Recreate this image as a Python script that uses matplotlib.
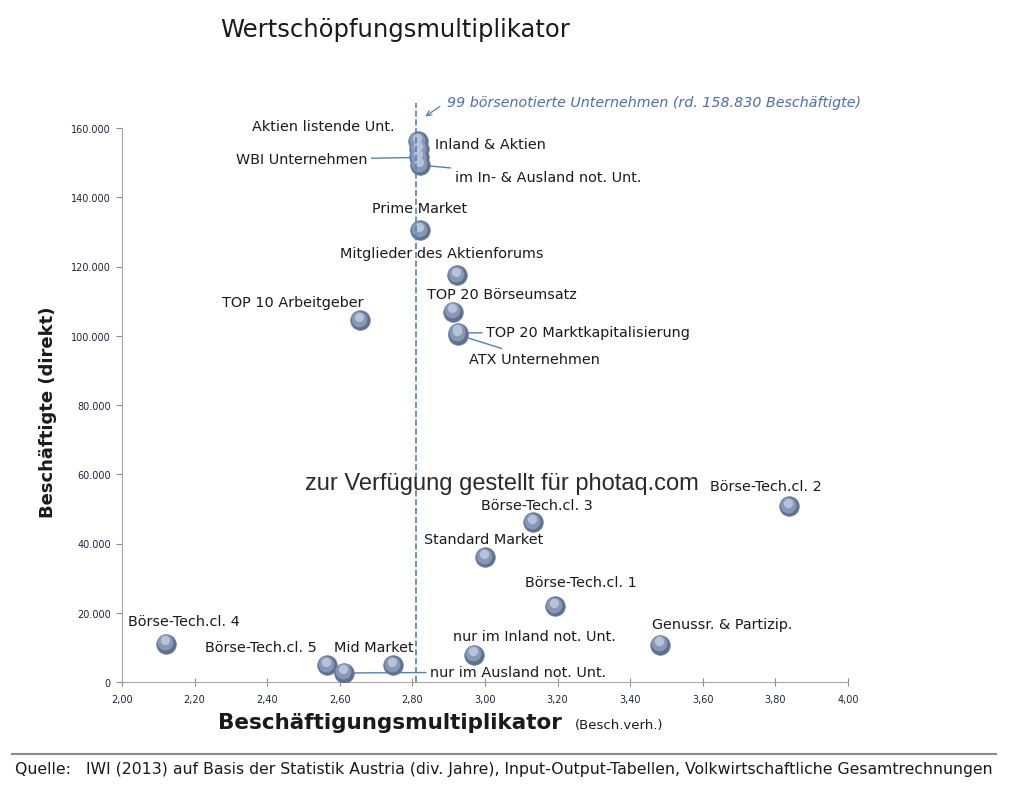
import matplotlib
matplotlib.use("Agg")

import matplotlib.pyplot as plt
from matplotlib.ticker import FuncFormatter
from matplotlib.transforms import offset_copy

# data
labels = ["Aktien listende Unt.", "Inland & Aktien", "WBI Unternehmen",
          "im In- & Ausland not. Unt.", "Prime Market", "Mitglieder des Aktienforums",
          "TOP 20 Börseumsatz", "TOP 20 Marktkapitalisierung", "ATX Unternehmen",
          "TOP 10 Arbeitgeber", "Börse-Tech.cl. 2", "Börse-Tech.cl. 3",
          "Standard Market", "Börse-Tech.cl. 1", "Genussr. & Partizip.",
          "Börse-Tech.cl. 4", "Börse-Tech.cl. 5", "nur im Ausland not. Unt.",
          "Mid Market", "nur im Inland not. Unt."]
multiplier = [2.815, 2.818, 2.818, 2.820, 2.821, 2.923, 2.912, 2.926, 2.925,
              2.656, 3.837, 3.132, 3.000, 3.193, 3.482, 2.121, 2.565, 2.612,
              2.747, 2.970]
employees = [156200, 153900, 151500, 149300, 130500, 117500, 106900, 100800,
             100300, 104500, 50800, 46200, 36100, 21900, 10700, 11000, 4900,
             2600, 4900, 7800]
x_ticks = [2.0, 2.2, 2.4, 2.6, 2.8, 3.0, 3.2, 3.4, 3.6, 3.8, 4.0]
y_ticks = [0, 20000, 40000, 60000, 80000, 100000, 120000, 140000, 160000]
avg_multiplier = 2.81

# label placement (pixels from point, text anchored left-centre) and leader lines
label_offsets = [(-166, 15), (16, 5), (-183, -2), (35, -12), (-48, 22), (-117, 22),
                 (-26, 18), (28, 1), (11, -24), (-138, 18), (-79, 20), (-52, 17),
                 (-61, 18), (-30, 24), (-8, 21), (-38, 23), (-122, 18), (86, 1),
                 (-59, 18), (-21, 19)]
leader = [False, False, True, True, False, False, False, True, True, False,
          False, False, False, False, False, False, False, True, False, False]

fig = plt.figure(figsize=(10.24, 8.03), dpi=100)
ax = fig.add_axes([122 / 1024, 1 - 683 / 803, 726 / 1024, 554 / 803])

ax.set_xlim(2.0, 4.0)
ax.set_ylim(0, 160000)
ax.set_xticks(x_ticks)
ax.set_yticks(y_ticks)
ax.xaxis.set_major_formatter(FuncFormatter(lambda v, p: f"{v:.2f}".replace(".", ",")))
ax.yaxis.set_major_formatter(FuncFormatter(lambda v, p: f"{int(v):,}".replace(",", ".")))
ax.tick_params(axis="both", labelsize=7, colors="#8c8c8c", labelcolor="#1f2340")
ax.tick_params(axis="x", direction="inout", length=6, pad=6)
ax.tick_params(axis="y", direction="out", length=4, pad=4)
for s in ["top", "right"]:
    ax.spines[s].set_visible(False)
for s in ["left", "bottom"]:
    ax.spines[s].set_color("#a6a6a6")

# dashed average line, running up to the note (drawn over the spheres)
ax.axvline(avg_multiplier, ymax=1.045, color="#4f81bd", ls="--", lw=1.2,
           clip_on=False, zorder=6)

# sphere-like markers: dark base, lighter body, soft highlight
ax.scatter(multiplier, employees, s=200, color="#5d7092", edgecolors="#7385a4",
           linewidths=0.5, zorder=3)
body = offset_copy(ax.transData, fig=fig, x=-1, y=1.5, units="dots")
ax.scatter(multiplier, employees, s=130, color="#8798b6", linewidths=0,
           transform=body, zorder=4)
shine = offset_copy(ax.transData, fig=fig, x=-1, y=3.5, units="dots")
ax.scatter(multiplier, employees, s=45, color="#b6c3d8", linewidths=0,
           transform=shine, zorder=5)

for i, name in enumerate(labels):
    arrow = None
    if leader[i]:
        arrow = dict(arrowstyle="-", color="#4f81bd", lw=1, shrinkA=1, shrinkB=6)
    ax.annotate(name, (multiplier[i], employees[i]), xytext=label_offsets[i],
                textcoords="offset pixels", ha="left", va="center",
                fontsize=10.4, color="#1a1a1a", arrowprops=arrow, zorder=2)

# note on the 99 listed companies
fig.text(447 / 1024, 1 - 103 / 803,
         "99 börsenotierte Unternehmen (rd. 158.830 Beschäftigte)",
         fontsize=10.3, style="italic", color="#4a6fae", va="center", ha="left")
fig.add_artist(matplotlib.patches.FancyArrowPatch(
    (442 / 1024, 1 - 106 / 803), (423 / 1024, 1 - 119 / 803),
    transform=fig.transFigure, arrowstyle="->", mutation_scale=9,
    color="#4f81bd", lw=0.9))

fig.text(395 / 1024, 1 - 30 / 803, "Wertschöpfungsmultiplikator",
         fontsize=17.5, ha="center", va="center", color="#1a1a1a")
fig.text(48 / 1024, 1 - 412 / 803, "Beschäftigte (direkt)", rotation=90,
         fontsize=13, fontweight="bold", ha="center", va="center", color="#1a1a1a")
fig.text(218 / 1024, 1 - 723 / 803, "Beschäftigungsmultiplikator",
         fontsize=15.5, fontweight="bold", ha="left", va="center", color="#1a1a1a")
fig.text(575 / 1024, 1 - 726 / 803, "(Besch.verh.)",
         fontsize=9.5, ha="left", va="center", color="#1a1a1a")

# watermark
fig.text(502 / 1024, 1 - 484 / 803, "zur Verfügung gestellt für photaq.com",
         family="Liberation Sans", fontsize=17, ha="center", va="center",
         color="#2a2a2a")

# source line
fig.add_artist(matplotlib.lines.Line2D([12 / 1024, 996 / 1024],
                                       [1 - 755 / 803, 1 - 755 / 803],
                                       color="#8c8c8c", lw=1.5))
fig.text(15 / 1024, 1 - 770 / 803,
         "Quelle:   IWI (2013) auf Basis der Statistik Austria (div. Jahre), "
         "Input-Output-Tabellen, Volkwirtschaftliche Gesamtrechnungen",
         fontsize=11.3, ha="left", va="center", color="#1a1a1a")

fig.savefig("out.png", dpi=100)
